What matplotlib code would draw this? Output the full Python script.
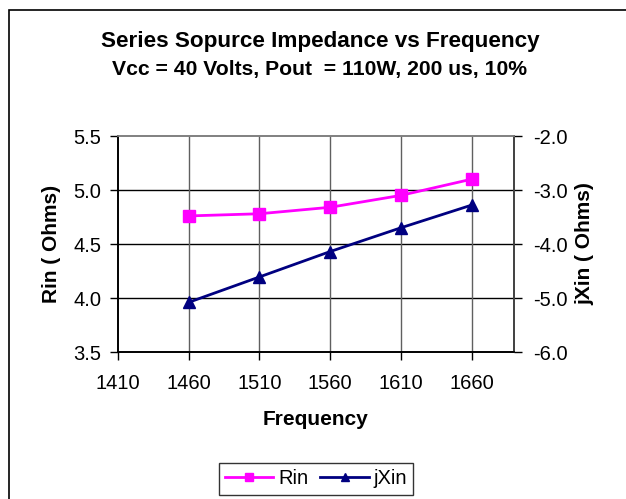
import matplotlib
matplotlib.use("Agg")
import matplotlib.pyplot as plt
from matplotlib.patches import Rectangle

plt.rcParams['font.family'] = ['Liberation Sans', 'DejaVu Sans']

# data
freq = [1460, 1510, 1560, 1610, 1660]
rin = [4.76, 4.78, 4.84, 4.95, 5.10]
jxin = [-5.08, -4.61, -4.14, -3.70, -3.28]
x_ticks = [1410, 1460, 1510, 1560, 1610, 1660]
rin_ticks = [3.5, 4.0, 4.5, 5.0, 5.5]
jxin_ticks = [-6.0, -5.0, -4.0, -3.0, -2.0]

W, H = 626, 499
fig = plt.figure(figsize=(W / 100, H / 100), dpi=100)

# outer chart frame (right/bottom edges fall outside the image)
fig.patches.append(Rectangle((9 / W, -0.1), 1.2, 1 - 10 / H + 0.1,
                             transform=fig.transFigure, fill=False,
                             edgecolor='black', linewidth=1.2))

ax = fig.add_axes([118 / W, 1 - 352 / H, 396 / W, 216 / H])
ax2 = ax.twinx()

ax.set_xlim(1410, 1690)
ax.set_ylim(3.5, 5.5)
ax2.set_ylim(-6.0, -2.0)

ax.set_xticks(x_ticks)
ax.set_yticks(rin_ticks)
ax.set_yticklabels([f'{v:.1f}' for v in rin_ticks])
ax2.set_yticks(jxin_ticks)
ax2.set_yticklabels([f'{v:.1f}' for v in jxin_ticks])

for v in rin_ticks[1:-1]:
    ax.axhline(v, color='black', linewidth=1.0, zorder=1)
for v in x_ticks[1:]:
    ax.axvline(v, color='#606060', linewidth=1.0, zorder=1)

ax.plot(freq, rin, color='#FF00FF', linewidth=2, marker='s', markersize=8,
        label='Rin', zorder=3)
ax2.plot(freq, jxin, color='#000080', linewidth=2, marker='^', markersize=8,
         label='jXin', zorder=3)

for a in (ax, ax2):
    for s in a.spines.values():
        s.set_linewidth(1.2)
    a.spines['top'].set_color('#808080')
    a.spines['right'].set_color('#404040')
ax.spines['left'].set_color('black')
ax.spines['bottom'].set_color('black')

fs = 14.5
ax.tick_params(axis='y', direction='out', length=6, width=1, pad=6, labelsize=fs)
ax.tick_params(axis='x', direction='out', length=6, width=1, pad=10, labelsize=fs)
ax2.tick_params(axis='y', direction='out', length=6, width=1, pad=8, labelsize=fs)

ax.set_xlabel('Frequency', fontsize=15, fontweight='bold', labelpad=12)
ax.set_ylabel('Rin ( Ohms)', fontsize=15, fontweight='bold', labelpad=9)
ax2.set_ylabel('jXin ( Ohms)', fontsize=15, fontweight='bold', labelpad=5)

fig.text(320 / W, 1 - 41 / H, 'Series Sopurce Impedance vs Frequency',
         ha='center', va='center', fontsize=16.2, fontweight='bold')
fig.text(320 / W, 1 - 70 / H, 'Vcc = 40 Volts, Pout  = 110W, 200 us, 10%',
         ha='center', va='center', fontsize=15.2, fontweight='bold')

h1, l1 = ax.get_legend_handles_labels()
h2, l2 = ax2.get_legend_handles_labels()
leg = fig.legend(h1 + h2, l1 + l2, loc='center', bbox_to_anchor=(316 / W, 1 - 479 / H),
                 ncol=2, frameon=True, fancybox=False, fontsize=fs,
                 handlelength=2.4, handletextpad=0.25, columnspacing=0.6,
                 borderpad=0.3, borderaxespad=0, markerscale=0.7)
leg.get_frame().set_edgecolor('black')
leg.get_frame().set_linewidth(1.0)

fig.savefig('out.png', dpi=100)
